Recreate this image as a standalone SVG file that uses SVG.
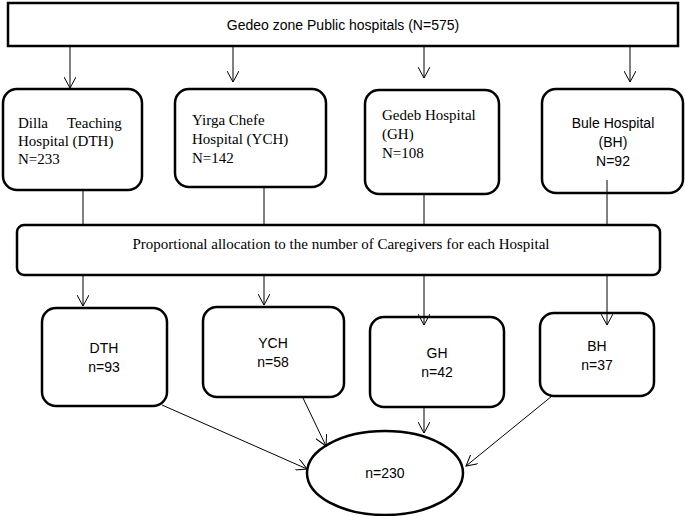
<svg xmlns="http://www.w3.org/2000/svg" width="685" height="516" viewBox="0 0 685 516">
<style>
.b{fill:#fff;stroke:#000;stroke-width:2.5}
.s{font-family:"Liberation Sans",Arial,sans-serif;font-size:14px;fill:#000}
.t{font-family:"Liberation Serif","Times New Roman",serif;font-size:15px;fill:#000}
.c line{stroke:#000;stroke-width:1}
</style>
<defs><marker id="a" viewBox="0 0 12 12" refX="11" refY="6" markerWidth="12" markerHeight="12" markerUnits="userSpaceOnUse" orient="auto"><path d="M0,0 L11,6 L0,12" fill="none" stroke="#000"/></marker></defs>
<rect width="685" height="516" fill="#fff"/>
<g id="top"><rect class="b" x="8" y="3" width="670" height="43"/><text class="s" x="343" y="30" text-anchor="middle">Gedeo zone Public hospitals (N=575)</text></g>
<g id="dth1"><rect class="b" x="3" y="89" width="139" height="101" rx="14"/><text class="t" x="18" y="128">Dilla</text><text class="t" x="67" y="128">Teaching</text><text class="t" x="18" y="146">Hospital (DTH)</text><text class="t" x="18" y="164">N=233</text></g>
<g id="ych1"><rect class="b" x="175" y="89" width="151" height="98" rx="14"/><text class="t" x="192" y="125">Yirga Chefe</text><text class="t" x="192" y="144">Hospital (YCH)</text><text class="t" x="192" y="163">N=142</text></g>
<g id="gh1"><rect class="b" x="365" y="90" width="134" height="104" rx="14"/><text class="t" x="382" y="120">Gedeb Hospital</text><text class="t" x="382" y="139">(GH)</text><text class="t" x="382" y="158">N=108</text></g>
<g id="bh1"><rect class="b" x="542" y="89" width="141" height="104" rx="14"/><text class="s" x="613" y="128" text-anchor="middle">Bule Hospital</text><text class="s" x="613" y="147" text-anchor="middle">(BH)</text><text class="s" x="613" y="166" text-anchor="middle">N=92</text></g>
<g id="prop"><rect class="b" x="17" y="225" width="643" height="50" rx="7"/><text class="t" x="341" y="249" text-anchor="middle">Proportional allocation to the number of Caregivers for each Hospital</text></g>
<g id="dth2"><rect class="b" x="42" y="308" width="125" height="98" rx="14"/><text class="s" x="104" y="353" text-anchor="middle">DTH</text><text class="s" x="104" y="372" text-anchor="middle">n=93</text></g>
<g id="ych2"><rect class="b" x="203" y="307" width="141" height="90" rx="14"/><text class="s" x="273" y="348" text-anchor="middle">YCH</text><text class="s" x="273" y="367" text-anchor="middle">n=58</text></g>
<g id="gh2"><rect class="b" x="370" y="317" width="134" height="90" rx="14"/><text class="s" x="437" y="358" text-anchor="middle">GH</text><text class="s" x="437" y="377" text-anchor="middle">n=42</text></g>
<g id="bh2"><rect class="b" x="540" y="313" width="114" height="83" rx="14"/><text class="s" x="597" y="351" text-anchor="middle">BH</text><text class="s" x="597" y="370" text-anchor="middle">n=37</text></g>
<g id="total"><ellipse class="b" cx="385" cy="473" rx="78" ry="42"/><text class="s" x="385" y="478" text-anchor="middle">n=230</text></g>
<g class="c" id="connectors">
<line x1="70" y1="46" x2="70" y2="88" marker-end="url(#a)"/>
<line x1="233" y1="46" x2="233" y2="82" marker-end="url(#a)"/>
<line x1="424" y1="46" x2="424" y2="78" marker-end="url(#a)"/>
<line x1="630" y1="46" x2="630" y2="82" marker-end="url(#a)"/>
<line x1="83" y1="190" x2="83" y2="225"/>
<line x1="264" y1="187" x2="264" y2="225"/>
<line x1="424" y1="194" x2="424" y2="225"/>
<line x1="607" y1="180" x2="607" y2="225"/>
<line x1="83" y1="275" x2="83" y2="306" marker-end="url(#a)"/>
<line x1="264" y1="275" x2="264" y2="305" marker-end="url(#a)"/>
<line x1="424" y1="275" x2="424" y2="325" marker-end="url(#a)"/>
<line x1="607" y1="275" x2="607" y2="325" marker-end="url(#a)"/>
<line x1="162" y1="405" x2="307" y2="469" marker-end="url(#a)"/>
<line x1="303" y1="398" x2="326" y2="446" marker-end="url(#a)"/>
<line x1="424" y1="407" x2="424" y2="433" marker-end="url(#a)"/>
<line x1="552" y1="396" x2="466" y2="466" marker-end="url(#a)"/>
</g>
</svg>
